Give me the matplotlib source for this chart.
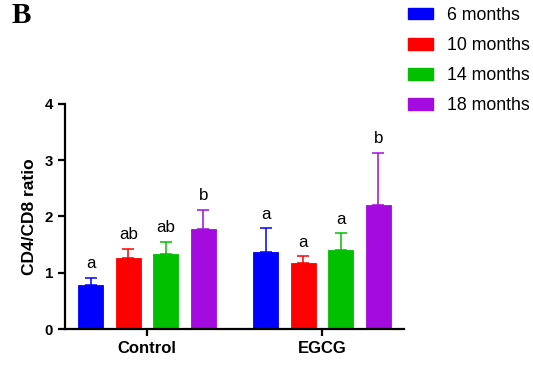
import matplotlib
matplotlib.use("Agg")
import matplotlib.pyplot as plt
from matplotlib.patches import Patch

groups = ["Control", "EGCG"]
ages = ["6 months", "10 months", "14 months", "18 months"]
colors = ["#0000FF", "#FF0000", "#00C000", "#A40BDF"]

# CD4/CD8 ratio: mean and upper error (SD), one list per age, ordered Control, EGCG
means = [[0.79, 1.37], [1.27, 1.17], [1.33, 1.41], [1.78, 2.20]]
errs = [[0.12, 0.42], [0.16, 0.12], [0.22, 0.29], [0.34, 0.93]]
letters = [["a", "a"], ["ab", "a"], ["ab", "a"], ["b", "b"]]

plt.rcParams["font.family"] = ["Liberation Sans", "DejaVu Sans"]
fig = plt.figure(figsize=(5.33, 3.66), dpi=100)
ax = fig.add_axes([0.122, 0.101, 0.636, 0.615])

width = 0.143
step = 0.214
for i, (age, c) in enumerate(zip(ages, colors)):
    xs = [g + (i - 1.5) * step for g in range(len(groups))]
    ax.bar(xs, means[i], width=width, color=c, edgecolor=c, linewidth=0.6,
           zorder=2)
    ax.errorbar(xs, means[i], yerr=[[0] * len(xs), errs[i]], fmt="none",
                ecolor=c, elinewidth=1.1, capsize=4.3, capthick=1.1, zorder=1)
    for x, m, e, t in zip(xs, means[i], errs[i], letters[i]):
        ax.text(x, m + e + 0.12, t, ha="center", va="bottom", fontsize=12.2)

ax.set_xlim(-0.469, 1.469)
ax.set_ylim(0, 4)
ax.set_yticks([0, 1, 2, 3, 4])
ax.set_xticks(range(len(groups)))
ax.set_xticklabels(groups, fontsize=12, fontweight="bold")
for lab in ax.get_yticklabels():
    lab.set_fontweight("bold")
    lab.set_fontsize(10.8)
ax.set_ylabel("CD4/CD8 ratio", fontsize=12.5, fontweight="bold", labelpad=6)
for s in ["top", "right"]:
    ax.spines[s].set_visible(False)
for s in ["left", "bottom"]:
    ax.spines[s].set_linewidth(1.6)
ax.tick_params(width=1.6, length=5)

handles = [Patch(facecolor=c, edgecolor=c) for c in colors]
fig.legend(handles, ages, loc="upper left", bbox_to_anchor=(0.7655, 0.981),
           frameon=False, fontsize=12.8, borderpad=0, borderaxespad=0,
           handlelength=1.4, handleheight=0.62, labelspacing=0.74,
           handletextpad=0.79)

fig.text(0.022, 0.994, "B", fontsize=21, fontweight="bold", va="top",
         family="Liberation Serif")

fig.savefig("out.png", dpi=100)
